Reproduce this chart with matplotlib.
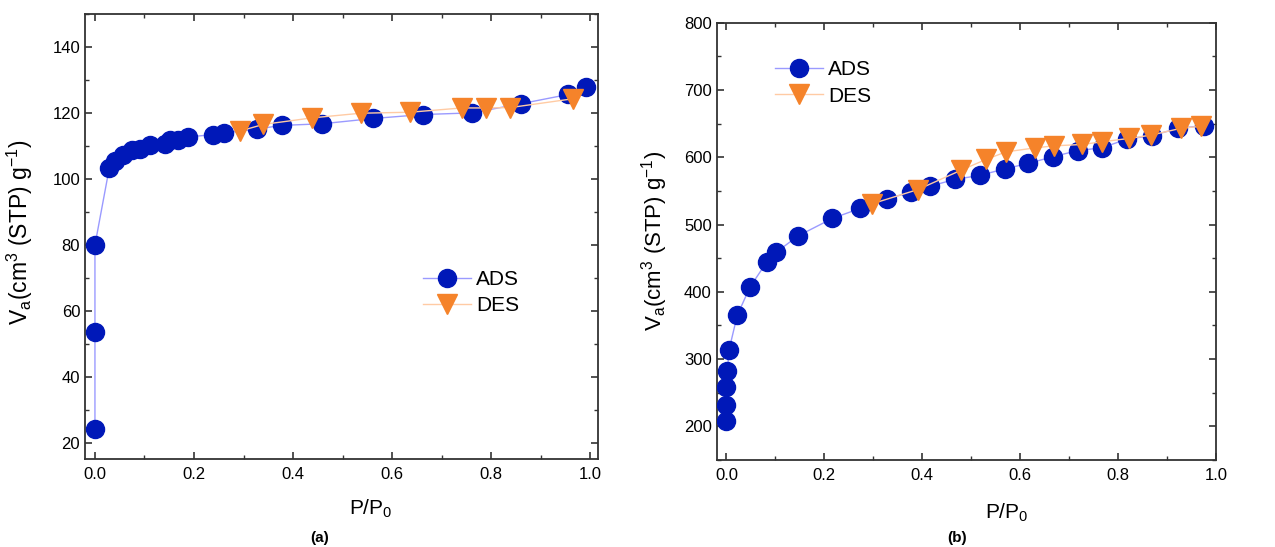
import matplotlib
matplotlib.use("Agg")
import matplotlib.pyplot as plt
from matplotlib.ticker import MultipleLocator

plt.rcParams['font.family'] = ['Liberation Sans', 'DejaVu Sans']
plt.rcParams['mathtext.default'] = 'regular'

# (a) isotherm
a_ads_p = [0.0, 0.0, 0.0, 0.029, 0.040, 0.057, 0.074, 0.091, 0.111, 0.141, 0.152,
           0.167, 0.188, 0.238, 0.261, 0.327, 0.377, 0.459, 0.562, 0.662, 0.761,
           0.861, 0.956, 0.992]
a_ads_v = [24.0, 53.5, 79.9, 103.3, 105.5, 107.3, 108.6, 109.0, 110.2, 110.7, 111.9,
           111.9, 112.7, 113.4, 113.9, 115.1, 116.2, 116.7, 118.3, 119.5, 120.0,
           122.8, 125.6, 127.8]
a_des_p = [0.966, 0.838, 0.789, 0.741, 0.636, 0.537, 0.439, 0.340, 0.293]
a_des_v = [124.3, 121.6, 121.5, 121.5, 120.2, 119.9, 118.5, 116.5, 114.5]

# (b) isotherm
b_ads_p = [0.0, 0.0, 0.0, 0.002, 0.005, 0.022, 0.048, 0.082, 0.102, 0.146, 0.216,
           0.273, 0.327, 0.376, 0.416, 0.466, 0.517, 0.570, 0.617, 0.668, 0.718,
           0.767, 0.818, 0.869, 0.922, 0.975]
b_ads_v = [208, 232, 258, 282, 313, 365, 407, 444, 459, 483, 509,
           524, 538, 548, 557, 567, 573, 583, 591, 601, 610,
           614, 627, 632, 643, 647]
b_des_p = [0.969, 0.928, 0.868, 0.822, 0.768, 0.726, 0.670, 0.631, 0.571, 0.531,
           0.480, 0.391, 0.298]
b_des_v = [646, 643, 633, 628, 623, 619, 617, 614, 608, 597, 581, 552, 531]

ads_col = '#0018B8'
ads_line = '#9a9aff'
des_col = '#F5832A'
des_line = '#FFCBA4'

fig = plt.figure(figsize=(12.75, 5.47), dpi=100)
ax1 = fig.add_axes([0.0667, 0.1609, 0.4024, 0.8135])
ax2 = fig.add_axes([0.5621, 0.1590, 0.3916, 0.7995])


def draw(ax, ap, av, dp, dv, ylabsize):
    ax.plot(ap, av, '-', color=ads_line, lw=1.0, marker='o', ms=13,
            mfc=ads_col, mec=ads_col, label='ADS', zorder=3)
    ax.plot(dp, dv, '-', color=des_line, lw=1.0, marker='v', ms=14,
            mfc=des_col, mec=des_col, label='DES', zorder=4)
    for s in ax.spines.values():
        s.set_linewidth(1.3)
        s.set_color('#333333')
    ax.tick_params(which='both', direction='in', top=True, right=True,
                   labelsize=12, color='#333333')
    ax.tick_params(which='major', length=5, width=1.2)
    ax.tick_params(which='minor', length=3, width=1.0)
    ax.tick_params(axis='x', which='major', pad=6)
    ax.xaxis.set_major_locator(MultipleLocator(0.2))
    ax.xaxis.set_minor_locator(MultipleLocator(0.1))
    ax.set_xlabel('P/P$_0$', fontsize=15)
    ax.set_ylabel('V$_a$(cm$^3$ (STP) g$^{-1}$)', fontsize=ylabsize)


draw(ax1, a_ads_p, a_ads_v, a_des_p, a_des_v, 16.5)
ax1.set_xlim(-0.02, 1.016)
ax1.set_ylim(15, 150)
ax1.yaxis.set_major_locator(MultipleLocator(20))
ax1.yaxis.set_minor_locator(MultipleLocator(10))
ax1.xaxis.set_label_coords(0.557, -0.088)
ax1.yaxis.set_label_coords(-0.098, 0.51)
ax1.legend(loc='center left', bbox_to_anchor=(0.659, 0.374), frameon=False,
           fontsize=15, handlelength=2.3, handletextpad=0.25, labelspacing=0.35,
           borderpad=0, borderaxespad=0)

draw(ax2, b_ads_p, b_ads_v, b_des_p, b_des_v, 16)
ax2.set_xlim(-0.02, 1.0)
ax2.set_ylim(150, 800)
ax2.yaxis.set_major_locator(MultipleLocator(100))
ax2.yaxis.set_minor_locator(MultipleLocator(50))
ax2.xaxis.set_label_coords(0.581, -0.095)
ax2.yaxis.set_label_coords(-0.094, 0.50)
ax2.legend(loc='center left', bbox_to_anchor=(0.117, 0.862), frameon=False,
           fontsize=15, handlelength=2.3, handletextpad=0.25, labelspacing=0.35,
           borderpad=0, borderaxespad=0)

fig.text(320 / 1275, 1 - 538 / 547, '(a)', fontsize=11, fontweight='bold',
         ha='center', va='center')
fig.text(957 / 1275, 1 - 538 / 547, '(b)', fontsize=11, fontweight='bold',
         ha='center', va='center')

fig.savefig('out.png', dpi=100)
